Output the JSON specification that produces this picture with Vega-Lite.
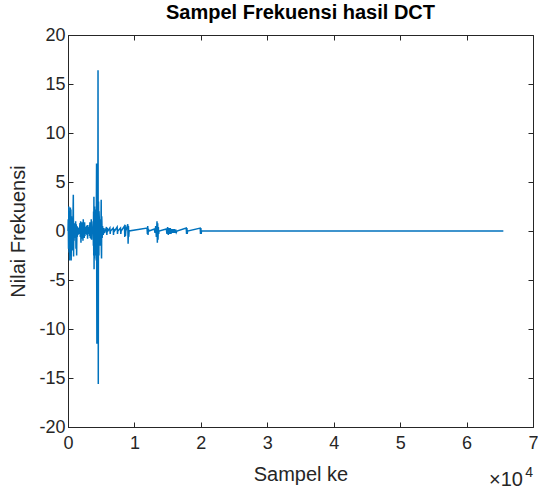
{
  "$schema": "https://vega.github.io/schema/vega-lite/v6.json",
  "width": 465,
  "height": 392,
  "autosize": {"type": "none"},
  "padding": {"left": 68, "top": 35, "right": 5, "bottom": 64},
  "background": "white",
  "title": {
    "text": "Sampel Frekuensi hasil DCT",
    "font": "Liberation Sans",
    "fontSize": 20,
    "fontWeight": "bold",
    "color": "#000000",
    "offset": 3,
    "anchor": "middle"
  },
  "config": {
    "view": {"stroke": "#262626", "strokeWidth": 1},
    "axis": {
      "labelFont": "Liberation Sans",
      "titleFont": "Liberation Sans",
      "labelColor": "#262626",
      "titleColor": "#262626",
      "domainColor": "#262626",
      "tickColor": "#262626",
      "labelFontSize": 18,
      "titleFontSize": 20,
      "titleFontWeight": "normal",
      "grid": false,
      "tickSize": -5
    }
  },
  "data": {
    "values": [
      {"x": 1, "y": 0}, {"x": 40, "y": 1.2}, {"x": 80, "y": -1.8}, {"x": 120, "y": 2.5}, {"x": 160, "y": -2.2},
      {"x": 200, "y": 2.0}, {"x": 240, "y": -3.0}, {"x": 280, "y": 1.8}, {"x": 320, "y": -2.5}, {"x": 360, "y": 2.4},
      {"x": 400, "y": -1.5}, {"x": 440, "y": 2.2}, {"x": 480, "y": -3.0}, {"x": 520, "y": 1.5}, {"x": 560, "y": -1.0},
      {"x": 600, "y": 1.2}, {"x": 640, "y": -2.0}, {"x": 680, "y": 1.0}, {"x": 720, "y": -1.2}, {"x": 760, "y": 1.8},
      {"x": 800, "y": 3.7}, {"x": 840, "y": -2.6}, {"x": 880, "y": 0.8}, {"x": 920, "y": -1.0}, {"x": 950, "y": 0.6}, {"x": 1000, "y": -0.7},
      {"x": 1050, "y": 0.8}, {"x": 1100, "y": -0.6}, {"x": 1150, "y": 1.0}, {"x": 1200, "y": -1.8}, {"x": 1250, "y": 0.7},
      {"x": 1300, "y": -2.5}, {"x": 1350, "y": 0.5}, {"x": 1400, "y": -0.6}, {"x": 1450, "y": 0.4}, {"x": 1500, "y": -0.4},
      {"x": 1600, "y": 0.3}, {"x": 1700, "y": -0.3}, {"x": 1800, "y": 0.8}, {"x": 1850, "y": -0.6}, {"x": 1900, "y": 1.0},
      {"x": 1950, "y": -1.2}, {"x": 2000, "y": 0.6}, {"x": 2050, "y": -0.5}, {"x": 2100, "y": 0.9}, {"x": 2150, "y": -0.8},
      {"x": 2200, "y": 0.7}, {"x": 2250, "y": -1.0}, {"x": 2300, "y": 1.2}, {"x": 2350, "y": -0.6}, {"x": 2400, "y": 0.5},
      {"x": 2450, "y": -0.7}, {"x": 2500, "y": 0.9}, {"x": 2550, "y": -0.5}, {"x": 2600, "y": 0.4}, {"x": 2700, "y": -0.3},
      {"x": 2800, "y": 0.5}, {"x": 2850, "y": -0.4}, {"x": 2900, "y": 0.6}, {"x": 2950, "y": -0.8}, {"x": 3000, "y": 0.4},
      {"x": 3100, "y": -0.3}, {"x": 3200, "y": 0.6}, {"x": 3250, "y": -0.5}, {"x": 3300, "y": 0.9}, {"x": 3350, "y": -0.7},
      {"x": 3400, "y": 0.5}, {"x": 3450, "y": -0.8}, {"x": 3500, "y": 1.2}, {"x": 3550, "y": -0.9}, {"x": 3600, "y": 0.4},
      {"x": 3700, "y": -0.3}, {"x": 3780, "y": 1.0}, {"x": 3820, "y": -1.5}, {"x": 3850, "y": 2.0}, {"x": 3875, "y": -2.5},
      {"x": 3900, "y": 3.5}, {"x": 3925, "y": -3.9}, {"x": 3950, "y": 2.0}, {"x": 3975, "y": -2.8},
      {"x": 4000, "y": 2.5}, {"x": 4025, "y": -2.0}, {"x": 4050, "y": 1.5}, {"x": 4075, "y": -2.5}, {"x": 4100, "y": 1.8},
      {"x": 4125, "y": -1.2}, {"x": 4150, "y": 2.2}, {"x": 4175, "y": -1.5}, {"x": 4200, "y": 2.0}, {"x": 4225, "y": -1.0},
      {"x": 4250, "y": -3.0}, {"x": 4275, "y": 3.0}, {"x": 4300, "y": 6.9}, {"x": 4325, "y": -5.0}, {"x": 4350, "y": -11.5},
      {"x": 4375, "y": 4.0}, {"x": 4400, "y": 5.0}, {"x": 4425, "y": -4.0}, {"x": 4450, "y": -6.0}, {"x": 4475, "y": 3.0},
      {"x": 4500, "y": 4.0}, {"x": 4520, "y": 16.4}, {"x": 4545, "y": -3.0}, {"x": 4560, "y": -15.6}, {"x": 4580, "y": 2.0},
      {"x": 4600, "y": 3.0}, {"x": 4625, "y": -2.0}, {"x": 4650, "y": -2.5}, {"x": 4675, "y": 2.0}, {"x": 4700, "y": 1.5},
      {"x": 4725, "y": -1.5}, {"x": 4750, "y": -1.0}, {"x": 4775, "y": 1.0}, {"x": 4800, "y": 1.2}, {"x": 4825, "y": -1.0},
      {"x": 4850, "y": -0.8}, {"x": 4875, "y": 1.0}, {"x": 4900, "y": 0.8}, {"x": 4925, "y": -1.5}, {"x": 4950, "y": -1.3},
      {"x": 4975, "y": 1.5}, {"x": 5000, "y": 3.2}, {"x": 5025, "y": -2.0}, {"x": 5050, "y": -2.8}, {"x": 5075, "y": 1.5},
      {"x": 5100, "y": 1.0}, {"x": 5150, "y": -0.7}, {"x": 5200, "y": 0.5},
      {"x": 5300, "y": -0.4}, {"x": 5400, "y": 0.3}, {"x": 5500, "y": -0.2}, {"x": 5600, "y": 0},
      {"x": 5800, "y": 0.4}, {"x": 5850, "y": -0.4}, {"x": 5900, "y": 0.3}, {"x": 6000, "y": 0},
      {"x": 6300, "y": 0.3}, {"x": 6350, "y": -0.3}, {"x": 6400, "y": 0},
      {"x": 6800, "y": 0.3}, {"x": 6850, "y": -0.4}, {"x": 6900, "y": 0.2}, {"x": 7000, "y": 0},
      {"x": 7400, "y": 0.4}, {"x": 7450, "y": -0.3}, {"x": 7500, "y": 0},
      {"x": 7900, "y": 0.3}, {"x": 7950, "y": -0.3}, {"x": 8000, "y": 0},
      {"x": 8500, "y": 0.5}, {"x": 8550, "y": -0.6}, {"x": 8600, "y": 0.6}, {"x": 8650, "y": -0.5}, {"x": 8700, "y": 0},
      {"x": 9000, "y": 0.7}, {"x": 9050, "y": -1.3}, {"x": 9100, "y": 0.5}, {"x": 9150, "y": -0.6}, {"x": 9200, "y": 0},
      {"x": 11900, "y": 0.3}, {"x": 11950, "y": -0.3}, {"x": 12000, "y": 0.5}, {"x": 12050, "y": -0.4}, {"x": 12100, "y": 0.2}, {"x": 12200, "y": 0},
      {"x": 13000, "y": 0.2}, {"x": 13100, "y": -0.2}, {"x": 13200, "y": 0.5}, {"x": 13300, "y": -0.6}, {"x": 13400, "y": 1.0},
      {"x": 13450, "y": -1.2}, {"x": 13500, "y": 0.8}, {"x": 13550, "y": -0.9}, {"x": 13600, "y": 0.4}, {"x": 13650, "y": -0.3}, {"x": 13700, "y": 0},
      {"x": 14800, "y": 0.2}, {"x": 14900, "y": -0.3}, {"x": 15000, "y": 0.4}, {"x": 15100, "y": -0.4}, {"x": 15200, "y": 0.3},
      {"x": 15300, "y": -0.3}, {"x": 15400, "y": 0.3}, {"x": 15500, "y": -0.3}, {"x": 15600, "y": 0.2}, {"x": 15700, "y": -0.2},
      {"x": 15800, "y": 0.2}, {"x": 15900, "y": -0.2}, {"x": 16000, "y": 0.2}, {"x": 16100, "y": -0.2}, {"x": 16200, "y": 0.15},
      {"x": 16300, "y": -0.15}, {"x": 16400, "y": 0},
      {"x": 17800, "y": 0.3}, {"x": 17850, "y": -0.3}, {"x": 17900, "y": 0.3}, {"x": 17950, "y": -0.3}, {"x": 18000, "y": 0},
      {"x": 19900, "y": 0.3}, {"x": 19950, "y": -0.3}, {"x": 20000, "y": 0.3}, {"x": 20050, "y": -0.3}, {"x": 20100, "y": 0},
      {"x": 65536, "y": 0}
    ]
  },
  "layer": [
    {
      "mark": {"type": "line", "color": "#0072BD", "strokeWidth": 1.5, "interpolate": "linear"},
      "encoding": {
        "x": {
          "field": "x", "type": "quantitative",
          "scale": {"domain": [0, 70000], "nice": false, "zero": false},
          "axis": {"orient": "bottom", "values": [0, 10000, 20000, 30000, 40000, 50000, 60000, 70000], "labelExpr": "datum.value / 10000", "title": "Sampel ke", "labelPadding": 12, "titleY": 37, "titleBaseline": "top", "labelFlush": false}
        },
        "y": {
          "field": "y", "type": "quantitative",
          "scale": {"domain": [-20, 20], "nice": false},
          "axis": {"orient": "left", "values": [-20, -15, -10, -5, 0, 5, 10, 15, 20], "labelExpr": "datum.value + ''", "title": "Nilai Frekuensi", "labelPadding": 8, "titleX": -40, "labelFlush": false}
        }
      }
    },
    {
      "mark": {"type": "line", "opacity": 0},
      "encoding": {
        "x": {
          "field": "x", "type": "quantitative",
          "axis": {"orient": "top", "values": [0, 10000, 20000, 30000, 40000, 50000, 60000, 70000], "labels": false, "title": null, "domain": false}
        },
        "y": {
          "field": "y", "type": "quantitative",
          "axis": {"orient": "right", "values": [-20, -15, -10, -5, 0, 5, 10, 15, 20], "labels": false, "title": null, "domain": false}
        }
      }
    },
    {
      "data": {"values": [{"x": 70000, "y": -20, "t": "×10"}]},
      "mark": {"type": "text", "align": "right", "baseline": "alphabetic", "dx": -10, "dy": 59, "font": "Liberation Sans", "fontSize": 20, "color": "#262626"},
      "encoding": {
        "x": {"field": "x", "type": "quantitative", "axis": null},
        "y": {"field": "y", "type": "quantitative", "axis": null},
        "text": {"field": "t"}
      }
    },
    {
      "data": {"values": [{"x": 70000, "y": -20, "t": "4"}]},
      "mark": {"type": "text", "align": "right", "baseline": "alphabetic", "dx": 0, "dy": 50, "font": "Liberation Sans", "fontSize": 14, "color": "#262626"},
      "encoding": {
        "x": {"field": "x", "type": "quantitative", "axis": null},
        "y": {"field": "y", "type": "quantitative", "axis": null},
        "text": {"field": "t"}
      }
    }
  ],
  "resolve": {"axis": {"x": "independent", "y": "independent"}}
}
